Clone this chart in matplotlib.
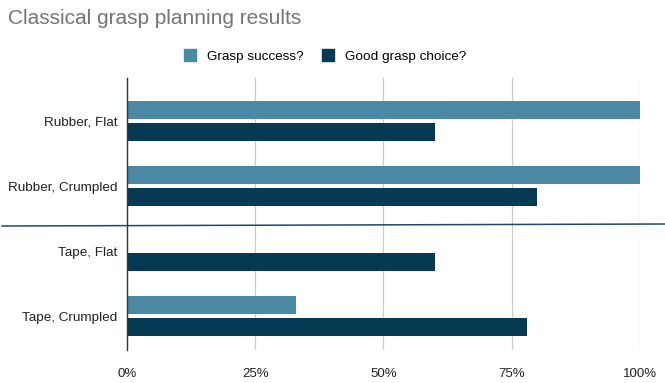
import matplotlib.pyplot as plt
from matplotlib.lines import Line2D
from matplotlib.patches import Patch
import numpy as np

plt.rcParams['font.family'] = ['Liberation Sans', 'DejaVu Sans']

categories = ['Rubber, Flat', 'Rubber, Crumpled', 'Tape, Flat', 'Tape, Crumpled']
grasp_success = [100, 100, 0, 33]
good_choice = [60, 80, 60, 78]
series_names = ['Grasp success?', 'Good grasp choice?']
x_ticks = [0, 25, 50, 75, 100]

light = '#4A88A3'
dark = '#053A52'

fig = plt.figure(figsize=(6.65, 3.83), dpi=100)
ax = fig.add_axes([0.191, 0.086, 0.771, 0.71])

y = np.arange(len(categories))
h = 0.28
gap = 0.03
ax.barh(y - h / 2 - gap, grasp_success, height=h, color=light, zorder=3)
ax.barh(y + h / 2 + gap, good_choice, height=h, color=dark, zorder=3)

ax.set_xlim(0, 100)
ax.set_ylim(3.52, -0.66)
ax.set_yticks(y)
ax.set_yticklabels(categories, fontsize=9.7, color='#222222')
ax.set_xticks(x_ticks)
ax.set_xticklabels([f'{t}%' for t in x_ticks], fontsize=9.5, color='#222222')
ax.tick_params(axis='y', length=0, pad=7)
ax.tick_params(axis='x', length=0, pad=13)
ax.grid(axis='x', color='#cccccc', linewidth=0.9, zorder=0)
for s in ['top', 'right', 'bottom']:
    ax.spines[s].set_visible(False)
ax.spines['left'].set_color('#333333')
ax.spines['left'].set_linewidth(1.0)
ax.spines['left'].set_zorder(4)

fig.text(8 / 665, 1 - 18 / 383, 'Classical grasp planning results', fontsize=15,
         color='#757575', ha='left', va='center')

handles = [Patch(color=light), Patch(color=dark)]
fig.legend(handles, series_names, loc='center', bbox_to_anchor=(325 / 665, 1 - 56 / 383),
           ncol=2, frameon=False, fontsize=9.7, handlelength=0.9, handleheight=0.9,
           columnspacing=1.4, handletextpad=0.8)

# separator between rubber and tape
fig.add_artist(Line2D([2 / 665, 1.0], [1 - 226 / 383, 1 - 224 / 383],
                      color='#1F4A66', linewidth=1.1, transform=fig.transFigure))

fig.savefig('out.png', dpi=100)
